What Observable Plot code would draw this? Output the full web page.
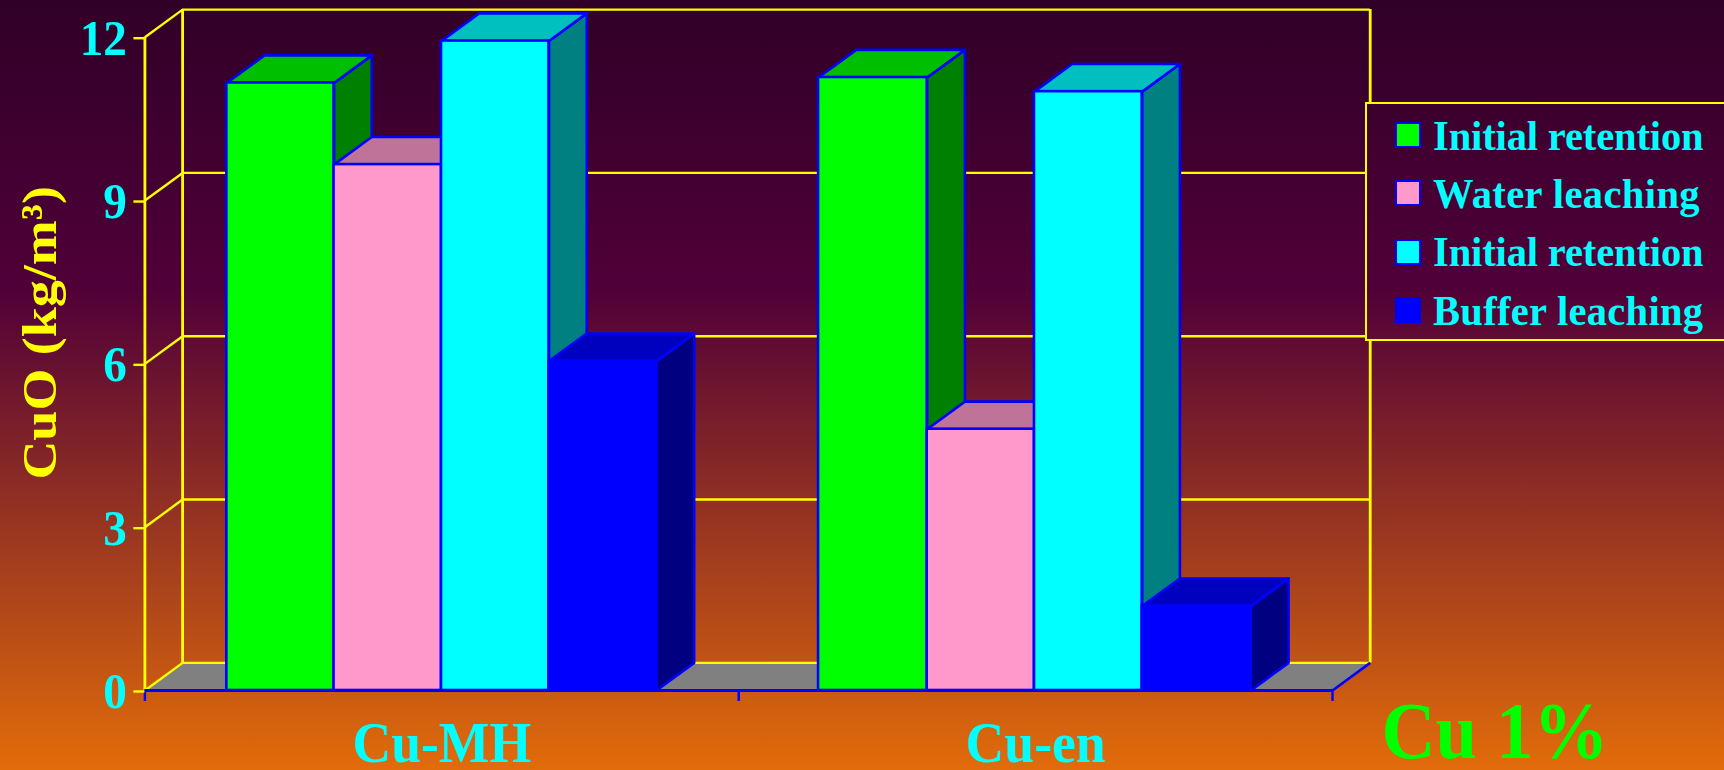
<!DOCTYPE html>
<html>
<head>
<meta charset="utf-8">
<script src="https://cdn.jsdelivr.net/npm/d3@7"></script>
<script src="https://cdn.jsdelivr.net/npm/@observablehq/plot@0.6"></script>
<style>
  :root { --bg: linear-gradient(180deg, #300028 0, #500038 290px, #e26c0a 770px) fixed; }
  html, body { margin: 0; padding: 0; width: 1724px; height: 770px; overflow: hidden; background: var(--bg); }
  #chart { position: absolute; left: 0; top: 0; }
  #chart svg { display: block; }
  #legend { position: absolute; left: 1365px; top: 102px; width: 357px; border: 2px solid #ffff00;
    background: var(--bg); font: bold 40.5px "Liberation Serif", serif; color: #00ffff; padding-top: 2px; box-sizing: content-box; height: 233px; }
  .row { height: 58.3px; display: flex; align-items: center; padding-left: 28px; white-space: nowrap; letter-spacing: -0.13px; }
  .row:nth-child(2) { letter-spacing: 0.4px; }
  .row:nth-child(4) { letter-spacing: 0.3px; }
  .row .label { display: inline-block; transform: scaleY(1.05); }
  .swatch { width: 22px; height: 22px; border: 2px solid #0000ff; margin-right: 12px; flex: none; }
</style>
</head>
<body>
<div id="chart"></div>
<div id="legend"></div>
<script>
const categories = ["Cu-MH", "Cu-en"];
const seriesNames = ["Initial retention", "Water leaching", "Initial retention", "Buffer leaching"];
const cuMH = [11.16, 9.66, 11.93, 6.05];
const cuEn = [11.26, 4.80, 11.00, 1.55];
const seriesColors = ["#00ff00", "#ff99cc", "#00ffff", "#0000ff"];
const topColors = ["#00bf00", "#bf7399", "#00bfbf", "#0000bf"];
const sideColors = ["#008000", "#804d66", "#008080", "#000080"];
const yTicks = [0, 3, 6, 9, 12];
const groupEdges = [0, 1, 2];
const caption = "Cu 1%";
const yTitle = "CuO (kg/m³)";

// layout of the pseudo-3D box, in scale units
const depthX = 0.0635, depthY = 0.507;
const barEdges = [[0.138, 0.3185, 0.4995, 0.6805, 0.8615], [0.1345, 0.3174, 0.4981, 0.6795, 0.8625]];

const blue = "#0000ff", yellow = "#ffff00", font = "Liberation Serif";

const bars = [cuMH, cuEn].flatMap((vals, g) => vals.map((v, s) => ({
  s, v, x1: g + barEdges[g][s], x2: g + barEdges[g][s + 1]
})));

const poly = (pts, fill, stroke = blue) =>
  Plot.line(pts, {x: d => d[0], y: d => d[1], fill, stroke, strokeWidth: 2.6, strokeLinejoin: "round"});

const barMarks = bars.flatMap(b => [
  poly([[b.x2, 0], [b.x2 + depthX, depthY], [b.x2 + depthX, b.v + depthY], [b.x2, b.v], [b.x2, 0]], sideColors[b.s]),
  poly([[b.x1, b.v], [b.x1 + depthX, b.v + depthY], [b.x2 + depthX, b.v + depthY], [b.x2, b.v], [b.x1, b.v]], topColors[b.s]),
  Plot.rect([b], {x1: d => d.x1, x2: d => d.x2, y1: () => 0, y2: d => d.v, fill: seriesColors[b.s], stroke: blue, strokeWidth: 2.6})
]);

const plot = Plot.plot({
  width: 1724, height: 770,
  marginLeft: 144.4, marginRight: 392, marginTop: 36.7, marginBottom: 80,
  style: {background: "transparent", fontFamily: font, overflow: "visible"},
  x: {domain: [0, 2]},
  y: {domain: [0, 12]},
  marks: [
    // floor
    Plot.line([[0, 0], [depthX, depthY], [2 + depthX, depthY], [2, 0], [0, 0]], {x: d => d[0], y: d => d[1], fill: "#808080", stroke: "none"}),
    // walls
    Plot.ruleY(yTicks, {y: d => d + depthY, x1: () => depthX, x2: () => 2 + depthX, stroke: yellow, strokeWidth: 2.4}),
    Plot.link(yTicks, {x1: () => 0, y1: d => d, x2: () => depthX, y2: d => d + depthY, stroke: yellow, strokeWidth: 2.4}),
    Plot.ruleX([0], {y1: () => 0, y2: () => 12, stroke: yellow, strokeWidth: 2.8}),
    Plot.ruleX([depthX, 2 + depthX], {y1: () => depthY, y2: () => 12 + depthY, stroke: yellow, strokeWidth: 2.8}),
    Plot.link([0], {x1: () => 2, y1: () => 0, x2: () => 2 + depthX, y2: () => depthY, stroke: blue, strokeWidth: 2.6}),
    // bars, painted left to right
    ...barMarks,
    // axes
    Plot.ruleY([0], {x1: () => 0, x2: () => 2, stroke: blue, strokeWidth: 3}),
    Plot.axisX({ticks: groupEdges, tickSize: 11, stroke: blue, strokeWidth: 2.4, tickFormat: () => "", label: null}),
    Plot.axisX({ticks: [0.5, 1.5], tickSize: 0, tickPadding: 30, tickFormat: d => categories[Math.floor(d)],
      fontSize: 58, fontWeight: "bold", fill: "#00ffff", label: null}),
    Plot.axisY({ticks: yTicks, tickSize: 11, tickPadding: 7, stroke: yellow, strokeWidth: 2.4, fill: "#00ffff",
      fontSize: 51, fontWeight: "bold", label: null, dy: 1}),
    Plot.text([yTitle], {frameAnchor: "left", textAnchor: "middle", rotate: -90, dx: -105, dy: -31, fontSize: 49.5, fontWeight: "bold", fill: yellow}),
    Plot.text([caption], {frameAnchor: "bottom-right", textAnchor: "start", dx: 49, dy: 67, fontSize: 81, fontWeight: "bold", fill: "#00ff00"})
  ]
});
document.getElementById("chart").append(plot);

// The reference's lettering is slightly stretched vertically: fit each text's advance accordingly.
d3.select(plot).selectAll("text").each(function () {
  const len = this.getComputedTextLength();
  if (!len) return;
  const t = this.getAttribute("transform") || "";
  const rotated = /rotate/.test(t);
  this.setAttribute("textLength", (len * (rotated ? 1.09 : 0.925)).toFixed(1));
  this.setAttribute("lengthAdjust", "spacingAndGlyphs");
});

const legend = d3.select("#legend");
seriesNames.forEach((n, i) => {
  const row = legend.append("div").attr("class", "row");
  row.append("span").attr("class", "swatch").style("background", seriesColors[i]);
  row.append("span").attr("class", "label").text(n);
});
</script>
</body>
</html>
